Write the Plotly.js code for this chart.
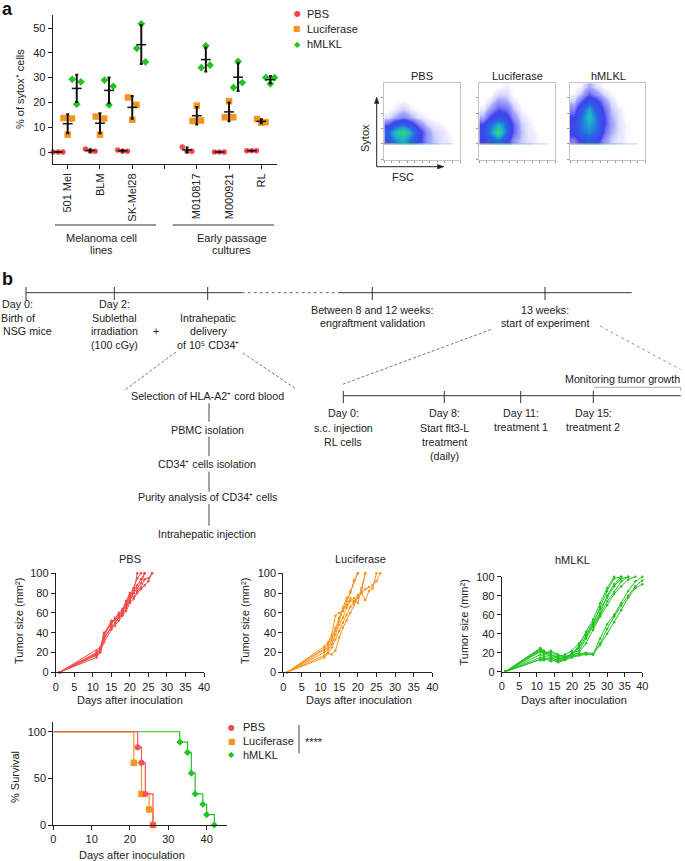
<!DOCTYPE html>
<html><head><meta charset="utf-8">
<script src="https://cdn.plot.ly/plotly-3.0.1.min.js"></script>
<style>html,body{margin:0;padding:0;background:#fff}#chart{width:685px;height:861px}</style>
</head><body><div id="chart"></div>
<script>
// ---------------- DATA ----------------
// Panel a: % of sytox+ cells, 3 replicates per cell line
const tickLabels = ['501 Mel', 'BLM', 'SK-Mel28', '', 'M010817', 'M000921', 'RL'];
const cellLines  = ['501 Mel', 'BLM', 'SK-Mel28', 'M010817', 'M000921', 'RL'];
const pbsSytox = [[0, 0, 0], [1.2, 0.3, 0.3], [0.8, 0.3, 0.3], [2, 0.3, 0.3], [0, 0, 0], [0.5, 0.5, 0.5]];
const lucSytox = [[13.7, 7, 13.5], [14.3, 7, 13.5], [22, 13, 19], [12.5, 18.7, 12.7], [14, 20.5, 14], [13.3, 11.8, 12]];
const mlklSytox = [[29.3, 19.3, 28.3], [29, 19, 26.5], [41.8, 51.7, 36.3], [34, 42.8, 35], [26, 36.5, 28], [30, 27.5, 30]];
const groupNames = ['PBS', 'Luciferase', 'hMLKL'];

// Flow cytometry density (estimated), rows = Sytox bins (low->high), cols = FSC bins
const flowFSC = [0.5, 1.5, 2.5, 3.5, 4.5, 5.5, 6.5, 7.5, 8.5, 9.5];
const flowSytox = [2.6, 3.6, 4.6, 5.6, 6.6, 7.6, 8.6, 9.6];
const flowPBS = [
  [4, 6, 7, 5, 3, 1.2, 0.6, 0.3, 0.15, 0],
  [5, 8, 10, 7, 3.5, 1.2, 0.5, 0.3, 0.1, 0],
  [2, 4, 5, 3.5, 1.5, 0.5, 0.2, 0.1, 0, 0],
  [0.3, 0.8, 1.5, 0.8, 0.3, 0.1, 0, 0, 0, 0],
  [0, 0.2, 0.5, 0.2, 0, 0, 0, 0, 0, 0],
  [0, 0, 0.1, 0, 0, 0, 0, 0, 0, 0],
  [0, 0, 0, 0, 0, 0, 0, 0, 0, 0],
  [0, 0, 0, 0, 0, 0, 0, 0, 0, 0]];
const flowLuc = [
  [2.5, 4, 5, 3, 1.2, 0.5, 0.3, 0.1, 0, 0],
  [3.5, 6, 10, 5, 2, 0.6, 0.2, 0.1, 0, 0],
  [2.5, 5, 7, 5, 2, 0.5, 0.2, 0, 0, 0],
  [0.8, 2.5, 4, 3, 1.2, 0.3, 0.1, 0, 0, 0],
  [0.2, 1, 2.2, 1.8, 0.6, 0.1, 0, 0, 0, 0],
  [0, 0.3, 1, 0.8, 0.2, 0, 0, 0, 0, 0],
  [0, 0, 0.4, 0.4, 0, 0, 0, 0, 0, 0],
  [0, 0, 0, 0.15, 0, 0, 0, 0, 0, 0]];
const flowMLKL = [
  [1.5, 3, 4, 3, 1.2, 0.5, 0.2, 0.1, 0, 0],
  [3, 5, 6, 5, 2, 0.8, 0.3, 0.1, 0, 0],
  [3, 5.5, 7, 5.5, 2.5, 1, 0.3, 0.1, 0, 0],
  [2.5, 5, 8, 5.5, 2.5, 0.8, 0.3, 0, 0, 0],
  [1.5, 4, 7, 4.5, 2, 0.6, 0.2, 0, 0, 0],
  [0.5, 2, 4, 3, 1.2, 0.3, 0, 0, 0, 0],
  [0.1, 0.6, 2, 1.2, 0.4, 0.1, 0, 0, 0, 0],
  [0, 0.1, 0.8, 0.3, 0, 0, 0, 0, 0, 0]];

// Tumor growth (mm^2) per mouse
const pbsDays = [1, 11, 12, 13, 15, 16, 17, 18, 19, 20, 21, 22, 23, 24, 25, 26];
const pbsTumor = [
  [0, 15, 20, 35, 45, 50, 55, 58, 65, 75, 80, 100],
  [0, 17, 22, 40, 48, 55, 58, 62, 68, 77, 85, 95, 100],
  [0, 19, 24, 38, 52, 53, 56, 60, 70, 78, 82, 88, 94, 100],
  [0, 22, 25, 33, 46, 50, 55, 63, 66, 72, 80, 85, 90, 100],
  [0, 18, 21, 30, 43, 47, 52, 57, 62, 70, 74, 80, 84, 88, 92, 100],
  [0, 20, 23, 36, 50, 54, 60, 64, 72, 80, 76, 82, 86, 94, 95, 100]];
const lucDays = [1, 11, 12, 13, 14, 15, 16, 17, 18, 19, 20, 21, 22, 23, 24, 25, 26];
const lucTumor = [
  [0, 26, 30, 38, 57, 60, 62, 72, 82, 92, 100],
  [0, 24, 28, 35, 45, 55, 65, 75, 80, 93, 100],
  [0, 22, 25, 32, 42, 52, 62, 68, 75, 70, 78, 82, 100],
  [0, 20, 23, 28, 38, 48, 55, 65, 72, 75, 70, 85, 100],
  [0, 17, 20, 25, 33, 42, 50, 58, 66, 72, 75, 80, 73, 82, 85, 100],
  [0, 15, 19, 18, 22, 35, 45, 52, 60, 68, 76, 80, 84, 86, 88, 92, 100]];
const mlklDays = [1, 11, 12, 14, 16, 18, 20, 22, 24, 26, 28, 30, 32, 34, 36, 38, 40];
const mlklTumor = [
  [0, 25, 22, 18, 15, 14, 18, 28, 42, 55, 72, 88, 100],
  [0, 24, 20, 20, 17, 16, 17, 25, 38, 50, 68, 85, 98, 100],
  [0, 23, 21, 16, 14, 13, 20, 22, 35, 48, 62, 80, 92, 100],
  [0, 22, 18, 17, 16, 18, 22, 30, 40, 52, 66, 78, 90, 98, 100],
  [0, 21, 19, 22, 18, 15, 19, 26, 37, 47, 60, 74, 84, 95, 100],
  [0, 18, 16, 15, 12, 14, 17, 20, 30, 44, 58, 70, 82, 90, 97, 100],
  [0, 15, 14, 13, 10, 12, 16, 18, 19, 18, 35, 50, 60, 72, 85, 95, 100],
  [0, 13, 12, 15, 11, 13, 15, 17, 18, 18, 30, 45, 58, 70, 80, 90, 96],
  [0, 12, 14, 11, 13, 16, 18, 19, 20, 19, 28, 40, 52, 65, 78, 88, 92]];

// Survival (Kaplan-Meier)
const pbsSurvDays = [0, 22, 23, 24, 26];
const pbsSurv = [100, 83.3, 66.7, 33.3, 0];
const lucSurvDays = [0, 21, 23, 25, 26];
const lucSurv = [100, 66.7, 33.3, 16.7, 0];
const mlklSurvDays = [0, 33, 35, 36, 37, 39, 40, 42];
const mlklSurv = [100, 88.9, 77.8, 55.6, 33.3, 22.2, 11.1, 0];

// ---------------- STYLE / LAYOUT ----------------
const W = 685, H = 861;
const FONT = 'Liberation Sans, Arial, Helvetica, sans-serif';
const RED = '#f04a4a', ORANGE = '#f7931e', GREEN = '#22c322';
const PX = x => x / W, PY = y => 1 - y / H;

const traces = [];
const annotations = [];
const shapes = [];

function T(text, x, y, o) {
  annotations.push(Object.assign({text: text, x: PX(x), y: PY(y), xref: 'paper', yref: 'paper',
    showarrow: false, xanchor: 'center', yanchor: 'middle',
    font: {size: 11, color: '#222', family: FONT}}, o || {}));
}
function lines(arr, x, y0, step, o) { arr.forEach((t, i) => T(t, x, y0 + i * step, o)); }
function seg(x0, y0, x1, y1, line) {
  shapes.push({type: 'line', xref: 'paper', yref: 'paper', x0: PX(x0), y0: PY(y0), x1: PX(x1), y1: PY(y1),
    line: Object.assign({color: '#333', width: 1}, line || {})});
}
function tri(pts) {
  const d = 'M ' + pts.map(p => PX(p[0]) + ' ' + PY(p[1])).join(' L ') + ' Z';
  shapes.push({type: 'path', xref: 'paper', yref: 'paper', path: d, fillcolor: '#222', line: {color: '#222', width: 0.5}});
}

// ---- Panel a scatter ----
const groups = [
  {vals: pbsSytox, color: RED, sym: 'circle', size: 5.5, jit: [-0.45, -0.3, -0.15], mean: -0.3},
  {vals: lucSytox, color: ORANGE, sym: 'square', size: 6.5, jit: [-0.13, 0, 0.13], mean: 0},
  {vals: mlklSytox, color: GREEN, sym: 'diamond', size: 6, jit: [0.14, 0.28, 0.41], mean: 0.28}];
groups.forEach((g, gi) => {
  const xs = [], ys = [];
  cellLines.forEach((c, ci) => {
    const p = tickLabels.indexOf(c);
    g.vals[ci].forEach((v, k) => { xs.push(p + g.jit[k]); ys.push(v); });
  });
  traces.push({type: 'scatter', mode: 'markers', x: xs, y: ys, xaxis: 'x', yaxis: 'y', name: groupNames[gi],
    marker: {color: g.color, symbol: g.sym, size: g.size}, showlegend: false, cliponaxis: false});
});
groups.forEach((g) => {
  const xs = [], ms = [], sds = [];
  cellLines.forEach((c, ci) => {
    const v = g.vals[ci];
    const m = v.reduce((a, b) => a + b, 0) / v.length;
    const sd = Math.sqrt(v.reduce((a, b) => a + (b - m) * (b - m), 0) / (v.length - 1));
    xs.push(tickLabels.indexOf(c) + g.mean); ms.push(m); sds.push(sd);
  });
  traces.push({type: 'scatter', mode: 'markers', x: xs, y: ms, xaxis: 'x', yaxis: 'y', showlegend: false,
    marker: {symbol: 'line-ew', size: 7, color: '#111', line: {width: 1.5, color: '#111'}},
    error_y: {type: 'data', array: sds, visible: true, color: '#111', thickness: 2, width: 1.5}, cliponaxis: false});
});

// ---- Flow plots ----
const flowCS = [[0, 'rgba(255,255,255,0)'], [0.015, 'rgba(205,205,255,0.35)'], [0.08, 'rgba(130,130,250,0.7)'],
  [0.25, '#4040ee'], [0.5, '#2a66e6'], [0.72, '#1cb4cc'], [0.88, '#26cf8a'], [1, '#48dc48']];
[[flowPBS, 'x2', 'y2'], [flowLuc, 'x3', 'y3'], [flowMLKL, 'x4', 'y4']].forEach(f => {
  traces.push({type: 'heatmap', x: flowFSC, y: flowSytox, z: f[0], xaxis: f[1], yaxis: f[2],
    colorscale: flowCS, zmin: 0, zmax: 10, zsmooth: 'best', showscale: false, hoverinfo: 'skip'});
  [[0, 1.3, '#f0a050'], [1.3, 4.5, '#60d070'], [4.5, 7, '#80cce6'], [7, 9, '#c4c8ff']].forEach(s => {
    shapes.push({type: 'line', xref: f[1], yref: f[2], x0: s[0], x1: s[1], y0: 2.1, y1: 2.1,
      line: {color: s[2], width: 1}});
  });
});

// ---- Tumor growth ----
[[pbsDays, pbsTumor, RED, 'x5', 'y5'], [lucDays, lucTumor, ORANGE, 'x6', 'y6'], [mlklDays, mlklTumor, GREEN, 'x7', 'y7']]
  .forEach(g => {
    g[1].forEach(m => traces.push({type: 'scatter', mode: 'lines+markers', x: g[0].slice(0, m.length), y: m,
      xaxis: g[3], yaxis: g[4], showlegend: false, line: {color: g[2], width: 1},
      marker: {color: g[2], size: 2.5}, cliponaxis: false}));
  });

// ---- Survival (drawn hMLKL first so PBS sits on top, as in the reference) ----
const surv = [[pbsSurvDays, pbsSurv, '#f25555', 'circle', 6], [lucSurvDays, lucSurv, ORANGE, 'square', 6.5], [mlklSurvDays, mlklSurv, GREEN, 'diamond', 5.5]];
surv.slice().reverse().forEach(g => {
  traces.push({type: 'scatter', mode: 'lines', x: g[0], y: g[1], xaxis: 'x8', yaxis: 'y8', showlegend: false,
    line: {color: g[2], width: 1.2, shape: 'hv'}, cliponaxis: false});
});
surv.slice().reverse().forEach(g => {
  traces.push({type: 'scatter', mode: 'markers', x: g[0].slice(1), y: g[1].slice(1), xaxis: 'x8', yaxis: 'y8',
    showlegend: false, marker: {color: g[2], symbol: g[3], size: g[4]}, cliponaxis: false});
});

// ---- Axes ----
const baseAx = {showgrid: false, zeroline: false, showline: true, linecolor: '#222', linewidth: 1,
  ticks: 'outside', ticklen: 4, tickwidth: 1, tickcolor: '#222', tickfont: {size: 11, color: '#222', family: FONT}};
const ax = (o) => Object.assign({}, baseAx, o);
const flowAx = (dom, anchor, isY) => ({domain: dom, anchor: anchor, range: [0, 10], showgrid: false, zeroline: false,
  showline: true, mirror: true, linecolor: '#c4c4c4', linewidth: 1, ticks: 'outside', ticklen: 2, tickcolor: '#999',
  tick0: isY ? 0.1 : 0, dtick: isY ? 2 : 1, showticklabels: false});
const flowY = [PY(160), PY(83.3)];
const labelled = tickLabels.map((t, i) => i).filter(i => tickLabels[i] !== '');
const unlabelled = tickLabels.map((t, i) => i).filter(i => tickLabels[i] === '');

const layout = {
  width: W, height: H, margin: {l: 0, r: 0, t: 0, b: 0}, paper_bgcolor: '#fff', plot_bgcolor: 'rgba(0,0,0,0)',
  showlegend: false, font: {family: FONT, color: '#222', size: 11},
  xaxis: ax({domain: [PX(52.7), PX(277)], anchor: 'y', range: [-0.465, 6.486],
    tickvals: labelled, ticktext: labelled.map(i => tickLabels[i]), tickangle: -90,
    minor: {tickvals: unlabelled, ticks: 'outside', ticklen: 4, tickcolor: '#222', showgrid: false}}),
  yaxis: ax({domain: [PY(164), PY(15)], anchor: 'x', range: [-4.84, 55.24], tickvals: [0, 10, 20, 30, 40, 50]}),
  xaxis2: flowAx([PX(384.3), PX(460)], 'y2', false), yaxis2: flowAx(flowY, 'x2', true),
  xaxis3: flowAx([PX(479.3), PX(555)], 'y3', false), yaxis3: flowAx(flowY, 'x3', true),
  xaxis4: flowAx([PX(570), PX(645)], 'y4', false), yaxis4: flowAx(flowY, 'x4', true),
  xaxis5: ax({domain: [PX(55.7), PX(204)], anchor: 'y5', range: [0, 40], dtick: 5}),
  yaxis5: ax({domain: [PY(672.3), PY(573.3)], anchor: 'x5', range: [0, 100], dtick: 20}),
  xaxis6: ax({domain: [PX(283.3), PX(432.3)], anchor: 'y6', range: [0, 40], dtick: 5}),
  yaxis6: ax({domain: [PY(672.3), PY(573.3)], anchor: 'x6', range: [0, 100], dtick: 20}),
  xaxis7: ax({domain: [PX(501.7), PX(642.3)], anchor: 'y7', range: [0, 40], dtick: 5}),
  yaxis7: ax({domain: [PY(671.7), PY(576.7)], anchor: 'x7', range: [0, 100], dtick: 20}),
  xaxis8: ax({domain: [PX(53.3), PX(226.6)], anchor: 'y8', range: [0, 45.2], tickvals: [0, 10, 20, 30, 40]}),
  yaxis8: ax({domain: [PY(825), PY(722.4)], anchor: 'x8', range: [0, 110], tickvals: [0, 50, 100]}),
  annotations: annotations, shapes: shapes
};

// ---- Text: panel a ----
T('<b>a</b>', 7, 9, {font: {size: 18, color: '#111', family: FONT}});
T('% of sytox⁺ cells', 20, 89, {textangle: -90});
seg(55, 225, 156, 225); seg(172.7, 225, 274, 225);
lines(['Melanoma cell', 'lines'], 101.7, 237.5, 12.5);
lines(['Early passage', 'cultures'], 231.7, 237.5, 12.5);
// legend
const legSyms = ['●', '■', '◆'], legCols = [RED, ORANGE, GREEN];
groupNames.forEach((n, i) => {
  T(legSyms[i], 297, 14 + 15 * i, {font: {size: 8, family: 'DejaVu Sans', color: legCols[i]}});
  T(n, 305, 14 + 15 * i, {xanchor: 'left'});
});
// flow titles and axis arrows
T('PBS', 421.7, 76); T('Luciferase', 517, 76); T('hMLKL', 608, 76);
T('Sytox', 365, 138, {textangle: -90});
T('FSC', 403, 177);
seg(376.7, 166.7, 376.7, 102, {color: '#222'});
tri([[374.4, 103.5], [376.7, 97], [379, 103.5]]);
seg(376.7, 166.7, 438, 166.7, {color: '#222'});
tri([[437.5, 164.4], [444, 166.7], [437.5, 169]]);

// ---- Text: panel b timeline ----
T('<b>b</b>', 7, 279, {font: {size: 18, color: '#111', family: FONT}});
const TL = {font: {size: 10.7, color: '#222', family: FONT}};
seg(26, 292.7, 241.7, 292.7);
seg(241.7, 292.7, 338.3, 292.7, {dash: 'dot', color: '#666'});
seg(338.3, 292.7, 631.7, 292.7);
[26, 114.3, 207.7, 372.3, 545].forEach(x => seg(x, 287, x, 300));
T('Day 0:', 17, 304, TL);
T('Birth of', 18, 317.6, TL);
T('NSG mice', 0.5, 331.2, Object.assign({xanchor: 'left'}, TL));
lines(['Day 2:', 'Sublethal', 'irradiation', '(100 cGy)'], 114, 304, 13.6, TL);
T('+', 156, 331, TL);
lines(['Intrahepatic', 'delivery', 'of 10⁵ CD34⁺'], 208, 317.7, 13.6, TL);
lines(['Between 8 and 12 weeks:', 'engraftment validation'], 372.5, 309.5, 13.6, TL);
lines(['13 weeks:', 'start of experiment'], 545, 309.5, 13.8, TL);
const DASH = {dash: '3px,2px', width: 0.8, color: '#555'};
seg(176, 352, 125, 390, DASH); seg(243, 353, 296, 389, DASH);
seg(491, 329.5, 342, 384.5, DASH);
seg(600, 326, 680.5, 369.5, {dash: 'dot', width: 0.8, color: '#777'});
// flowchart
T('Selection of HLA-A2⁺ cord blood', 207, 395.7, TL);
T('PBMC isolation', 207, 430, TL);
T('CD34⁺ cells isolation', 207, 464.3, TL);
T('Purity analysis of CD34⁺ cells', 207, 497.3, TL);
T('Intrahepatic injection', 207, 534, TL);
[[403.3, 421.7], [436.7, 456], [471.7, 491.7], [504, 525.7]].forEach(s => seg(209, s[0], 209, s[1], {color: '#444'}));
// second timeline
seg(343.3, 395.7, 680.7, 395.7);
[343.3, 444.3, 520.7, 593.3].forEach(x => seg(x, 391, x, 403));
T('Monitoring tumor growth', 622.7, 379, TL);
seg(594.3, 387.3, 680.7, 387.3, {color: '#aaa'}); seg(680.7, 387.3, 680.7, 391, {color: '#aaa'});
lines(['Day 0:', 's.c. injection', 'RL cells'], 343.3, 413.5, 14.2, TL);
lines(['Day 8:', 'Start flt3-L', 'treatment', '(daily)'], 444.3, 413.5, 14.2, TL);
lines(['Day 11:', 'treatment 1'], 520.7, 413.5, 13.6, TL);
lines(['Day 15:', 'treatment 2'], 593.3, 413.5, 13.6, TL);

// ---- Tumor panel titles ----
T('PBS', 129.5, 558.5); T('Luciferase', 360, 558.5); T('hMLKL', 572.5, 559.5);
T('Tumor size (mm²)', 19, 621, {textangle: -90});
T('Tumor size (mm²)', 245, 621, {textangle: -90});
T('Tumor size (mm²)', 463.5, 623, {textangle: -90});
T('Days after inoculation', 130, 700); T('Days after inoculation', 359.5, 700); T('Days after inoculation', 573.5, 700);

// ---- Survival ----
T('% Survival', 15, 777, {textangle: -90});
T('Days after inoculation', 131.7, 855);
groupNames.forEach((n, i) => {
  const y = [727.3, 741.2, 754.5][i];
  T(legSyms[i], 231.7, y, {font: {size: 8, family: 'DejaVu Sans', color: legCols[i]}});
  T(n, 240.5, y, {xanchor: 'left'});
});
seg(299, 725, 299, 753.3, {color: '#444'});
T('****', 314, 741.5);

Plotly.newPlot('chart', traces, layout, {staticPlot: true, displayModeBar: false});
</script></body></html>
